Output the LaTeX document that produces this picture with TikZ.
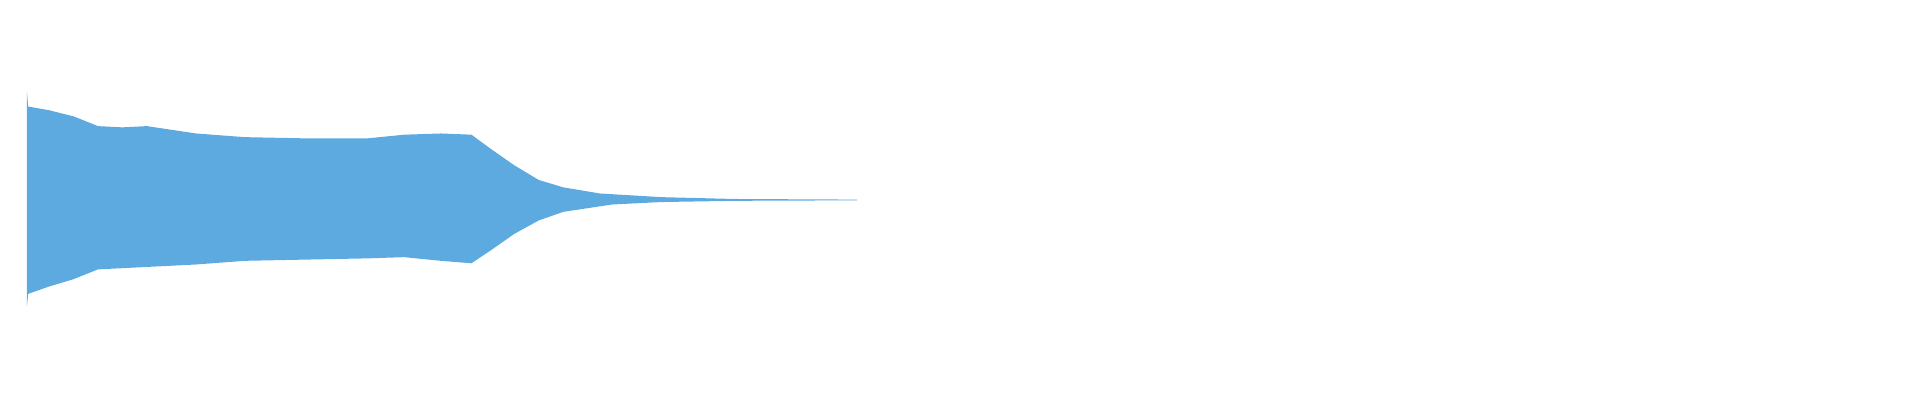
\documentclass[tikz,border=0pt]{standalone}
\definecolor{wave}{RGB}{93,170,224}
\begin{document}
\begin{tikzpicture}[x=0.9184pt,y=0.9184pt,yscale=-1]
\useasboundingbox (0,0) rectangle (1568,326.7);
%envelope of the signal
\fill[wave] (22,75) -- (23,87) -- (40,90) -- (60,95) -- (80,103) -- (100,104)
  -- (120,103) -- (160,109) -- (200,112) -- (250,113) -- (300,113) -- (330,110)
  -- (360,109) -- (385,110) -- (400,121) -- (420,135) -- (440,147) -- (460,153)
  -- (490,158) -- (540,161) -- (600,162.5) -- (700,163)
  -- (700,163.6) -- (600,164) -- (540,165) -- (500,167) -- (460,173) -- (440,180)
  -- (420,191) -- (400,205) -- (385,215) -- (360,213) -- (330,210) -- (300,211)
  -- (250,212) -- (200,213) -- (160,216) -- (120,218) -- (80,220) -- (60,228)
  -- (40,234) -- (23,240) -- (22,250) -- cycle;
\end{tikzpicture}
\end{document}
